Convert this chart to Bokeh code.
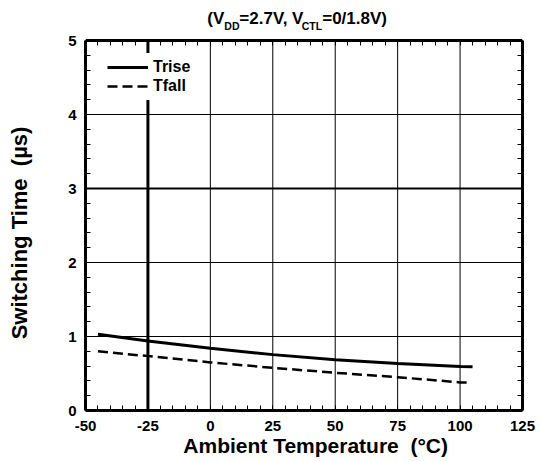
from bokeh.plotting import figure
from bokeh.models import (Range1d, LinearAxis, Span, Label, Legend, SingleIntervalTicker,
                          LegendItem)
from bokeh.embed import file_html
from bokeh.resources import INLINE

# ---- data ----
temp_rise = [-45, -25, 0, 25, 50, 75, 100, 105]
trise = [1.03, 0.94, 0.84, 0.755, 0.685, 0.635, 0.595, 0.59]
temp_fall = [-45, -25, 0, 25, 50, 75, 100, 103]
tfall = [0.80, 0.735, 0.65, 0.577, 0.51, 0.45, 0.38, 0.38]

x_ticks = [-50, -25, 0, 25, 50, 75, 100, 125]
x_tick_labels = ["-50", "-25", "0", "25", "50", "75", "100", "125"]
y_ticks = [0, 1, 2, 3, 4, 5]

title_parts = ["(V", "DD", "=2.7V, V", "CTL", "=0/1.8V)"]

FONT = "Liberation Sans"
XMIN, XMAX = x_ticks[0], x_ticks[-1]
YMIN, YMAX = y_ticks[0], y_ticks[-1]
PX_PER_Y = 74.0          # vertical scale (pixels per unit)
FRAME_BOTTOM = 410.0     # canvas y of the x axis
YTOP = FRAME_BOTTOM / PX_PER_Y   # frame extends to the top of the canvas (title room)

p = figure(width=540, height=461, output_backend="svg", toolbar_location=None,
           x_range=Range1d(XMIN, XMAX), y_range=Range1d(YMIN, YTOP),
           min_border_left=85, min_border_right=18, min_border_top=0,
           min_border_bottom=51)

p.background_fill_color = "white"
p.border_fill_color = "white"
p.outline_line_color = None

# horizontal grid
p.ygrid.ticker = SingleIntervalTicker(interval=1)
p.ygrid.grid_line_color = "black"
p.ygrid.grid_line_width = 1
p.xgrid.visible = False

def style_axis(ax, labels=True):
    ax.axis_line_color = "black"
    ax.axis_line_width = 3
    ax.major_tick_in = 0
    ax.major_tick_out = 0
    ax.minor_tick_in = 5
    ax.minor_tick_out = 0
    ax.minor_tick_line_color = "black"
    ax.minor_tick_line_width = 1
    ax.major_label_text_font = FONT
    ax.major_label_text_font_style = "bold"
    ax.major_label_text_font_size = "15px"
    ax.major_label_text_color = "black"
    if not labels:
        ax.major_label_text_font_size = "0px"
        ax.major_label_text_alpha = 0
        ax.major_label_standoff = 0

p.xaxis.ticker = SingleIntervalTicker(interval=25, num_minor_ticks=5)
p.yaxis.ticker = SingleIntervalTicker(interval=1, num_minor_ticks=5)
style_axis(p.xaxis[0])
style_axis(p.yaxis[0])
p.yaxis.bounds = (YMIN, YMAX)
p.xaxis.major_label_overrides = dict(zip(x_ticks, x_tick_labels))
p.xaxis.major_label_standoff = 10
p.yaxis.major_label_standoff = 9

NB = "\u00a0"
p.xaxis.axis_label = NB * 4 + "Ambient Temperature" + NB * 2 + "(°C)"
p.yaxis.axis_label = "Switching Time" + NB * 2 + "(µs)" + NB * 9
p.xaxis.axis_label_text_font_size = "21px"
p.yaxis.axis_label_text_font_size = "22px"
for ax in (p.xaxis[0], p.yaxis[0]):
    ax.axis_label_text_font = FONT
    ax.axis_label_text_font_style = "bold"
    ax.axis_label_text_color = "black"
p.xaxis.axis_label_standoff = 0
p.yaxis.axis_label_standoff = 33

# top edge of the box (axis drawn at y = 5, ticks pointing down)
top_ax = LinearAxis(ticker=SingleIntervalTicker(interval=25, num_minor_ticks=5),
                    fixed_location=YMAX)
style_axis(top_ax, labels=False)
p.add_layout(top_ax, "above")
right_ax = LinearAxis(ticker=SingleIntervalTicker(interval=1, num_minor_ticks=5),
                      bounds=(YMIN, YMAX))
style_axis(right_ax, labels=False)
p.add_layout(right_ax, "right")

# vertical grid lines limited to the box
inner_x = x_ticks[1:-1]
p.segment(x0=inner_x, y0=[YMIN] * len(inner_x), x1=inner_x, y1=[YMAX] * len(inner_x),
          line_color="black", line_width=1)
# heavier reference lines at -25 and 3
p.segment(x0=[x_ticks[1]], y0=[YMIN], x1=[x_ticks[1]], y1=[YMAX],
          line_color="black", line_width=3)
p.add_layout(Span(location=y_ticks[3], dimension="width", line_color="black",
                  line_width=2, level="underlay"))

r1 = p.line(temp_rise, trise, line_color="black", line_width=3)
r2 = p.line(temp_fall, tfall, line_color="black", line_width=2.5, line_dash="10 5")

legend = Legend(items=[LegendItem(label="Trise", renderers=[r1]),
                       LegendItem(label="Tfall", renderers=[r2])],
                location=(17, 310))
legend.margin = 0
legend.padding = 5
legend.spacing = 1
legend.glyph_width = 41
legend.glyph_height = 16
legend.label_height = 16
legend.label_standoff = 5
legend.label_text_font = FONT
legend.label_text_font_style = "bold"
legend.label_text_font_size = "16px"
legend.label_text_color = "black"
legend.border_line_alpha = 0
legend.background_fill_color = "white"
legend.background_fill_alpha = 1
p.add_layout(legend, "center")

# title with subscripts, placed in data space above the box
def dx(px):
    return (px - 85) / 2.5 + XMIN

def dy(py):
    return (FRAME_BOTTOM - py) / PX_PER_Y

parts = [(title_parts[0], 207, 18, "17px"),
         (title_parts[1], 224, 25, "10.5px"),
         (title_parts[2], 239, 18, "17px"),
         (title_parts[3], 301.5, 25, "10.5px"),
         (title_parts[4], 322, 18, "17px")]
for txt, xx, yy, fs in parts:
    p.add_layout(Label(x=dx(xx), y=dy(yy), text=txt, text_font=FONT,
                       text_font_style="bold", text_font_size=fs, text_align="left",
                       text_baseline="alphabetic", text_color="black"))

open("out.html", "w").write(file_html(p, INLINE))
